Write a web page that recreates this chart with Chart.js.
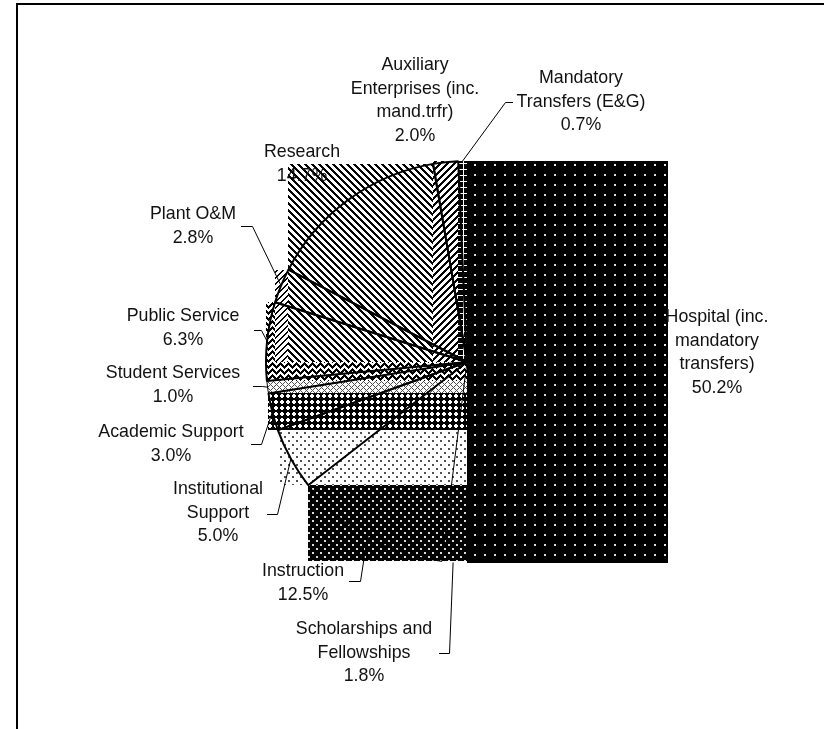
<!DOCTYPE html>
<html>
<head>
<meta charset="utf-8">
<script src="https://cdn.jsdelivr.net/npm/chart.js@4.4.1/dist/chart.umd.min.js"></script>
<style>
  html, body { margin: 0; padding: 0; background: #fff; }
  canvas { display: block; }
</style>
</head>
<body>
<canvas id="myChart" width="824" height="729"></canvas>
<script>
// slices, clockwise from 12 o'clock
var categories = [
  "Hospital (inc. mandatory transfers)",
  "Scholarships and Fellowships",
  "Instruction",
  "Institutional Support",
  "Academic Support",
  "Student Services",
  "Public Service",
  "Plant O&M",
  "Research",
  "Auxiliary Enterprises (inc. mand.trfr)",
  "Mandatory Transfers (E&G)"
];
var percents = [50.2, 1.8, 12.5, 5.0, 3.0, 1.0, 6.3, 2.8, 14.7, 2.0, 0.7];

// how each label is wrapped
var labelLines = [
  ["Hospital (inc.", "mandatory", "transfers)"],
  ["Scholarships and", "Fellowships"],
  ["Instruction"],
  ["Institutional", "Support"],
  ["Academic Support"],
  ["Student Services"],
  ["Public Service"],
  ["Plant O&M"],
  ["Research"],
  ["Auxiliary", "Enterprises (inc.", "mand.trfr)"],
  ["Mandatory", "Transfers (E&G)"]
];

// label layout: [text centre x, first line y]
var labelPos = [
  [717, 317], [364, 629], [303, 571], [218, 489], [171, 432], [173, 373],
  [183, 316], [193, 214], [302, 152], [415, 65], [581, 78]
];
// leader lines: [elbow x, elbow y, end x] (null = no leader)
var leaders = [
  null, [449, 653, 439], [360, 581, 349], [277, 514, 267], [261, 444, 251],
  [262, 386, 253], [261, 330, 254], [252, 226, 241], null, null, [505, 102, 513]
];
var outlineWidths = [0, 0, 1, 2, 2, 1, 2, 2, 2, 2, 0];

function tri(v, p) { return Math.abs((v % p) - p / 2); }

function makePattern(w, h, ink, fg, bg) {
  var c = document.createElement("canvas");
  c.width = w; c.height = h;
  var g = c.getContext("2d");
  var img = g.createImageData(w, h);
  for (var y = 0; y < h; y++) {
    for (var x = 0; x < w; x++) {
      var col = ink(x, y) ? fg : bg;
      var i = (y * w + x) * 4;
      img.data[i] = col[0]; img.data[i + 1] = col[1]; img.data[i + 2] = col[2]; img.data[i + 3] = 255;
    }
  }
  g.putImageData(img, 0, 0);
  return g.createPattern(c, "repeat");
}

var BLACK = [0, 0, 0], WHITE = [255, 255, 255], GREY = [80, 80, 80], LIGHT = [220, 220, 220];

var patterns = [
  // Hospital: white dots on black
  makePattern(10, 10, function (x, y) { return (x === 4 || x === 5) && (y === 4 || y === 5); }, LIGHT, BLACK),
  // Scholarships: sparse dots on white
  makePattern(8, 8, function (x, y) { return x === 0 && y === 0; }, BLACK, WHITE),
  // Instruction: staggered white dots on black
  makePattern(8, 8, function (x, y) { return (x < 2 && y < 2) || (x >= 4 && x < 6 && y >= 4 && y < 6); }, LIGHT, BLACK),
  // Institutional: staggered dark dots on white
  makePattern(8, 8, function (x, y) { return (x < 2 && y < 2) || (x >= 4 && x < 6 && y >= 4 && y < 6); }, GREY, WHITE),
  // Academic: dark diamonds
  makePattern(6, 6, function (x, y) { return Math.abs(x - 2.5) + Math.abs(y - 2.5) <= 3; }, BLACK, WHITE),
  // Student: light diagonal cross
  makePattern(6, 6, function (x, y) { return (x + y) % 6 === 0 || (x - y + 6) % 6 === 0; }, GREY, WHITE),
  // Public Service: zigzag
  makePattern(8, 6, function (x, y) { return ((y + tri(x, 8)) % 6) < 3; }, BLACK, WHITE),
  // Plant O&M: light upward hatch
  makePattern(6, 6, function (x, y) { return ((x + y) % 6) < 2; }, BLACK, WHITE),
  // Research: downward diagonal
  makePattern(7, 7, function (x, y) { return ((x - y + 7) % 7) < 3; }, BLACK, WHITE),
  // Auxiliary: upward diagonal
  makePattern(7, 7, function (x, y) { return ((x + y) % 7) < 3; }, BLACK, WHITE),
  // Mandatory transfers: white grid on black
  makePattern(6, 6, function (x, y) { return x === 1 || y === 1; }, WHITE, BLACK)
];

function sectorBox(arc) {
  var p = arc.getProps(["x", "y", "startAngle", "endAngle", "outerRadius"], true);
  var xs = [p.x], ys = [p.y];
  function add(t) {
    xs.push(p.x + p.outerRadius * Math.cos(t));
    ys.push(p.y + p.outerRadius * Math.sin(t));
  }
  add(p.startAngle); add(p.endAngle);
  var q = Math.PI / 2;
  for (var k = Math.ceil(p.startAngle / q); k * q <= p.endAngle; k++) add(k * q);
  return {
    x0: Math.round(Math.min.apply(null, xs)), y0: Math.round(Math.min.apply(null, ys)),
    x1: Math.round(Math.max.apply(null, xs)), y1: Math.round(Math.max.apply(null, ys))
  };
}

var framePlugin = {
  id: "frame",
  beforeDraw: function (chart) {
    var ctx = chart.ctx;
    ctx.save();
    ctx.fillStyle = "#000";
    ctx.fillRect(16, 3, 2, 726);
    ctx.fillRect(16, 3, 808, 2);
    ctx.restore();
  }
};

var boxPlugin = {
  id: "boxes",
  beforeDatasetsDraw: function (chart) {
    var ctx = chart.ctx;
    var arcs = chart.getDatasetMeta(0).data;
    ctx.save();
    arcs.forEach(function (arc, i) {
      var b = sectorBox(arc);
      ctx.fillStyle = patterns[i];
      ctx.fillRect(b.x0, b.y0, b.x1 - b.x0, b.y1 - b.y0);
    });
    ctx.restore();
  }
};

var labelPlugin = {
  id: "pieLabels",
  afterDatasetsDraw: function (chart) {
    var ctx = chart.ctx;
    var arcs = chart.getDatasetMeta(0).data;
    ctx.save();
    ctx.strokeStyle = "#000";
    ctx.lineWidth = 1;
    arcs.forEach(function (arc, i) {
      var ld = leaders[i];
      if (!ld) return;
      var p = arc.getProps(["x", "y", "startAngle", "endAngle", "outerRadius"], true);
      var mid = (p.startAngle + p.endAngle) / 2;
      var ax = p.x + p.outerRadius * Math.cos(mid);
      var ay = p.y + p.outerRadius * Math.sin(mid);
      ctx.beginPath();
      ctx.moveTo(ld[2], ld[1] + 0.5);
      ctx.lineTo(ld[0] + 0.5, ld[1] + 0.5);
      ctx.lineTo(ax, ay);
      ctx.stroke();
    });
    ctx.fillStyle = "#111";
    ctx.font = '17.8px "Liberation Sans", Arial, sans-serif';
    ctx.textAlign = "center";
    ctx.textBaseline = "middle";
    labelLines.forEach(function (lines, i) {
      var all = lines.concat([percents[i].toFixed(1) + "%"]);
      all.forEach(function (t, j) {
        ctx.fillText(t, labelPos[i][0], labelPos[i][1] + j * 23.8);
      });
    });
    ctx.restore();
  }
};

new Chart("myChart", {
  type: "pie",
  data: {
    labels: categories,
    datasets: [
      {
        data: percents,
        backgroundColor: "rgba(0,0,0,0)",
        borderColor: "#000",
        borderWidth: outlineWidths
      }
    ]
  },
  options: {
    responsive: false,
    animation: false,
    devicePixelRatio: 1,
    radius: 201,
    layout: { padding: { left: 160, right: 50, top: 0, bottom: 5 } },
    plugins: {
      legend: { display: false },
      tooltip: { enabled: false }
    }
  },
  plugins: [framePlugin, boxPlugin, labelPlugin]
});
</script>
</body>
</html>
